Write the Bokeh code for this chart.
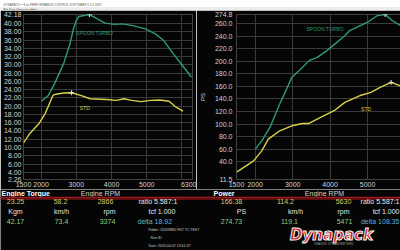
from bokeh.plotting import figure
from bokeh.layouts import column, row
from bokeh.models import FixedTicker, PrintfTickFormatter, Range1d
from bokeh.core.properties import value
from bokeh.embed import file_html
from bokeh.resources import INLINE

# ---------------- data ----------------
std_torque_rpm = [1500, 1680, 1940, 2115, 2335, 2420, 2640, 2866, 3125, 3390, 3870, 4135, 4355, 4575, 4840, 5105, 5370, 5635, 5810, 6030]
std_torque = [11.1, 13.4, 15.8, 18.2, 22.6, 22.9, 23.2, 23.25, 22.6, 21.8, 21.6, 21.4, 21.8, 21.4, 21.1, 21.4, 21.5, 21.2, 19.9, 18.8]
turbo_torque_rpm = [2010, 2205, 2380, 2640, 2820, 2905, 2990, 3070, 3374, 3600, 3820, 4085, 4300, 4610, 4960, 5220, 5471, 5750, 6010, 6270]
turbo_torque = [21.2, 22.6, 25.4, 30.3, 35.1, 38.3, 40.5, 41.7, 42.17, 41.1, 40.1, 39.8, 39.9, 39.5, 38.7, 37.6, 36.0, 32.7, 29.9, 27.0]

std_power_rpm = [1513, 1957, 2174, 2349, 2654, 2979, 3262, 3437, 3654, 3960, 4132, 4393, 4828, 5089, 5350, 5630, 5872, 6030]
std_power = [23.6, 41.2, 57.2, 75.9, 89.2, 97.2, 100.9, 100.9, 107.9, 116.9, 122.3, 134.5, 146.0, 150.5, 159.0, 166.38, 161.0, 158.0]
turbo_power_rpm = [2001, 2174, 2393, 2654, 2979, 3218, 3437, 3654, 3915, 4132, 4393, 4523, 5004, 5265, 5471, 5657, 5872, 6100, 6300]
turbo_power = [59.9, 73.2, 94.5, 131.9, 174.5, 187.9, 201.2, 206.5, 217.2, 227.9, 241.0, 249.2, 262.5, 273.2, 274.73, 265.2, 257.2, 247.0, 237.0]

rpm_label_ticks = [1500, 2000, 3000, 4000, 5000, 6300]
rpm_grid_ticks = [2000, 3000, 4000, 5000, 6000]
torque_ticks = [2.26, 4, 6, 8, 10, 12, 14, 16, 18, 20, 22, 24, 26, 28, 30, 32, 34, 36, 38, 40, 42.18]
power_ticks = [11.5, 40, 60, 80, 100, 120, 140, 160, 180, 200, 220, 240, 260, 274.8]

series_names = ["SPOON TURBO", "STD"]
torque_peak = [42.17, 23.25]
torque_peak_rpm = [3374, 2866]
power_peak = [274.73, 166.38]
power_peak_rpm = [5471, 5630]

left_row1 = ["23.25", "58.2", "2866"]
left_units = ["Kgm", "km/h", "rpm"]
left_row3 = ["42.17", "73.4", "3374"]
right_row1 = ["166.38", "114.2", "5630"]
right_units = ["PS", "km/h", "rpm"]
right_row3 = ["274.73", "119.1", "5471"]
left_info = ["ratio 5.587:1", "tcf 1.000", "delta 18.92"]
right_info = ["ratio 5.587:1", "tcf 1.000", "delta 108.35"]

# ---------------- style ----------------
FONT = "Liberation Sans"
BG = "#050505"
GRID = "#3a3a3a"
GREEN = "#2f9d6c"
YELLOW = "#d9d04a"
TXT = "#d2d2d2"


def chart(width, xr, yr, yticks, fmt, bl, br):
    p = figure(width=width, height=179, x_range=xr, y_range=yr,
               output_backend="svg", toolbar_location=None,
               min_border_left=bl, min_border_right=br, min_border_top=4, min_border_bottom=10,
               background_fill_color=BG, border_fill_color=BG, outline_line_color=None)
    p.xaxis.ticker = FixedTicker(ticks=rpm_label_ticks)
    p.xgrid.ticker = FixedTicker(ticks=rpm_grid_ticks)
    p.yaxis.ticker = FixedTicker(ticks=yticks)
    p.yaxis.formatter = PrintfTickFormatter(format=fmt)
    for ax in (p.xaxis, p.yaxis):
        ax.axis_line_color = None
        ax.major_tick_line_color = None
        ax.minor_tick_line_color = None
        ax.major_tick_out = 0
        ax.major_tick_in = 0
        ax.major_label_standoff = 2
        ax.major_label_text_font = FONT
        ax.major_label_text_font_size = "7px"
        ax.major_label_text_color = TXT
    p.grid.grid_line_color = GRID
    p.grid.grid_line_width = 1
    return p


# left torque chart
pl = chart(196, Range1d(1500, 6300), Range1d(2.26, 42.18), torque_ticks, "%.2f", 21, 4)
pl.line(turbo_torque_rpm, turbo_torque, line_color=GREEN, line_width=1.4)
pl.line(std_torque_rpm, std_torque, line_color=YELLOW, line_width=1.4)
pl.scatter(torque_peak_rpm, torque_peak, marker="cross", size=5, line_color="#e8e8e8", line_width=1)
pl.text(x=[3518], y=[37.6], text=[series_names[0]], text_color=GREEN, text_font=value(FONT),
        text_font_size="5px", text_align="center", text_baseline="middle")
pl.text(x=[3241], y=[19.5], text=[series_names[1]], text_color=YELLOW, text_font=value(FONT),
        text_font_size="5px", text_align="center", text_baseline="middle")

# right power chart
pr = chart(204, Range1d(1500, 5880), Range1d(11.5, 274.8), power_ticks, "%.1f", 36, 0)
pr.yaxis.axis_label = "PS"
pr.yaxis.axis_label_text_font = FONT
pr.yaxis.axis_label_text_font_size = "6px"
pr.yaxis.axis_label_text_font_style = "normal"
pr.yaxis.axis_label_text_color = TXT
pr.yaxis.axis_label_standoff = 6
pr.yaxis.major_label_standoff = 4
pr.line(turbo_power_rpm, turbo_power, line_color=GREEN, line_width=1.4)
pr.line(std_power_rpm, std_power, line_color=YELLOW, line_width=1.4)
pr.scatter(power_peak_rpm, power_peak, marker="cross", size=5, line_color="#e8e8e8", line_width=1)
pr.text(x=[3863], y=[252.4], text=[series_names[0]], text_color=GREEN, text_font=value(FONT),
        text_font_size="5px", text_align="center", text_baseline="middle")
pr.text(x=[4960], y=[124.4], text=[series_names[1]], text_color=YELLOW, text_font=value(FONT),
        text_font_size="5px", text_align="center", text_baseline="middle")


def panel(height, y0, y1, fill):
    p = figure(width=400, height=height, x_range=Range1d(0, 400), y_range=Range1d(y1, y0),
               output_backend="svg", toolbar_location=None,
               min_border_left=0, min_border_right=0, min_border_top=0, min_border_bottom=0,
               background_fill_color=fill, border_fill_color=fill, outline_line_color=None)
    p.axis.visible = False
    p.grid.visible = False
    return p


def txt(p, x, y, s, color, size="7px", align="left", style="normal", font=FONT):
    p.text(x=[x], y=[y], text=[s], text_color=color, text_font=value(font), text_font_size=size,
           text_align=align, text_baseline="middle", text_font_style=style)


# top window bar
top = panel(10, 0, 10, "#ffffff")
top.quad(left=[0], right=[400], top=[4.6], bottom=[10], fill_color="#ececec", line_color=None)
txt(top, 3, 2.4, "DYNAPACK™ 4.xx PERFORMANCE CONTROL SOFTWARE V 3.1.5887", "#606060", size="3px")
txt(top, 3, 7.3, "File   Data   Operators   Help", "#404040", size="3px")

# bottom readout panel
bot = panel(61, 189, 250, BG)
txt(bot, 1, 192.5, "Engine Torque", "#ffffff", size="7px", style="bold")
txt(bot, 100, 192.5, "Engine RPM", TXT, size="7px", align="center")
txt(bot, 213, 192.5, "Power", "#ffffff", size="7px", style="bold")
txt(bot, 324, 192.5, "Engine RPM", TXT, size="7px", align="center")
bot.quad(left=[0], right=[400], top=[196], bottom=[199.6], fill_color="#5e0d10", line_color=None)
bot.quad(left=[0], right=[400], top=[196.6], bottom=[197.6], fill_color="#9a1c1e", line_color=None)

NUM_Y = "#d8c86a"
NUM_G = "#8fcf86"
CYAN = "#5fb2d6"
for s, x in zip(left_row1, [15, 60, 105]):
    txt(bot, x, 201, s, NUM_Y, align="center")
for s, x in zip(left_units, [15, 61, 109]):
    txt(bot, x, 210.8, s, "#e0e0e0", align="center")
for s, x in zip(left_row3, [15, 61, 107]):
    txt(bot, x, 221, s, NUM_G, align="center")
txt(bot, 138, 201, left_info[0], "#e8e8e8")
txt(bot, 148, 210.8, left_info[1], "#e8e8e8")
txt(bot, 137, 221, left_info[2], CYAN)

for s, x in zip(right_row1, [231, 285, 343]):
    txt(bot, x, 201, s, NUM_Y, align="center")
for s, x in zip(right_units, [241, 295, 343]):
    txt(bot, x, 210.8, s, "#e0e0e0", align="center")
for s, x in zip(right_row3, [231, 289, 344]):
    txt(bot, x, 221, s, NUM_G, align="center")
txt(bot, 399, 201, right_info[0], "#e8e8e8", align="right")
txt(bot, 399, 210.8, right_info[1], "#e8e8e8", align="right")
txt(bot, 399, 221, right_info[2], CYAN, align="right")

txt(bot, 148, 229.5, "Folder:  2020WED FKT TC TEST", "#cfcfcf", size="3.5px")
txt(bot, 150, 237.3, "Run ID:", "#cfcfcf", size="3.5px")
txt(bot, 148, 245, "Date:  2020-04-07 13:41:47", "#cfcfcf", size="3.5px")

# Dynapack logo
bot.text(x=[331], y=[234], text=["Dynapack"], text_color="#c8181c", text_font=value("DejaVu Sans"),
         text_font_size="15px", text_font_style="bold italic", text_align="center", text_baseline="middle",
         text_outline_color="#f2f2f2")
txt(bot, 333, 243.3, "CHASSIS DYNAMOMETERS", "#9a9a9a", size="3px", align="center")

layout = column(top, row(pl, pr), bot)
open("out.html", "w").write(file_html(layout, INLINE))
